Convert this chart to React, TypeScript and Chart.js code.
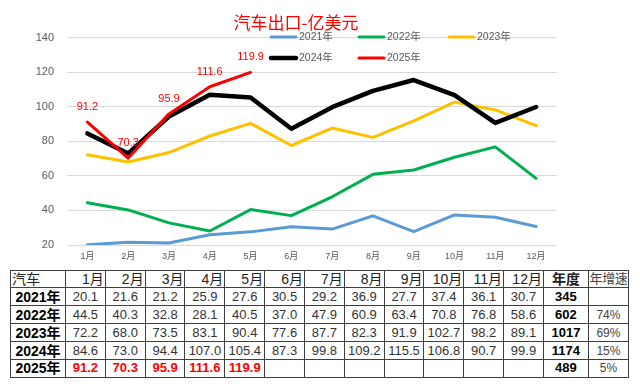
import React, { useEffect, useRef } from "react";
import { Chart, registerables } from "chart.js";

Chart.register(...registerables);

const months = ["1月", "2月", "3月", "4月", "5月", "6月", "7月", "8月", "9月", "10月", "11月", "12月"];
const years = ["2021年", "2022年", "2023年", "2024年", "2025年"];
const v2021 = [20.1, 21.6, 21.2, 25.9, 27.6, 30.5, 29.2, 36.9, 27.7, 37.4, 36.1, 30.7];
const v2022 = [44.5, 40.3, 32.8, 28.1, 40.5, 37.0, 47.9, 60.9, 63.4, 70.8, 76.8, 58.6];
const v2023 = [72.2, 68.0, 73.5, 83.1, 90.4, 77.6, 87.7, 82.3, 91.9, 102.7, 98.2, 89.1];
const v2024 = [84.6, 73.0, 94.4, 107.0, 105.4, 87.3, 99.8, 109.2, 115.5, 106.8, 90.7, 99.9];
const v2025 = [91.2, 70.3, 95.9, 111.6, 119.9];
const annualTotals = ["345", "602", "1017", "1174", "489"];
const annualGrowth = ["", "74%", "69%", "15%", "5%"];
const yMin = 20;
const yMax = 140;
const yStep = 20;
const chartTitle = "汽车出口-亿美元";
const tableCorner = "汽车";
const totalHeader = "年度";
const growthHeader = "年增速";

const seriesValues = [v2021, v2022, v2023, v2024, v2025];
const seriesColors = ["#5B9BD5", "#00B050", "#FFC000", "#000000", "#FF0000"];
const seriesWidths = [3, 3, 3, 4.5, 3];
const legendPos = [
  { x: 270, y: 37 },
  { x: 358, y: 37 },
  { x: 448, y: 37 },
  { x: 270, y: 58 },
  { x: 358, y: 58 },
];

const overlayPlugin = {
  id: "overlay",
  afterDatasetsDraw(chart: any) {
    const ctx = chart.ctx;
    const meta = chart.getDatasetMeta(4);
    ctx.save();
    ctx.font = '11px "Liberation Sans", Arial, sans-serif';
    ctx.fillStyle = "#FF0000";
    ctx.textAlign = "center";
    ctx.textBaseline = "middle";
    meta.data.forEach((pt: any, i: number) => {
      ctx.fillText(String(v2025[i].toFixed(1)), pt.x, pt.y - 15);
    });
    ctx.restore();
  },
  afterDraw(chart: any) {
    const ctx = chart.ctx;
    ctx.save();
    ctx.font = '17px "Noto Sans CJK SC", sans-serif';
    ctx.fillStyle = "#FF0000";
    ctx.textAlign = "center";
    ctx.textBaseline = "middle";
    ctx.fillText(chartTitle, 296, 23);
    ctx.font = '10.5px "Liberation Sans", "Noto Sans CJK SC", sans-serif';
    ctx.textAlign = "left";
    years.forEach((y, i) => {
      const p = legendPos[i];
      ctx.strokeStyle = seriesColors[i];
      ctx.lineWidth = seriesWidths[i];
      ctx.lineCap = "round";
      ctx.beginPath();
      ctx.moveTo(p.x + 1, p.y);
      ctx.lineTo(p.x + 26, p.y);
      ctx.stroke();
      ctx.fillStyle = "#595959";
      ctx.fillText(y, p.x + 29, p.y + 0.5);
    });
    ctx.restore();
  },
};

export default function App() {
  const ref = useRef<HTMLCanvasElement | null>(null);
  useEffect(() => {
    if (!ref.current) return;
    const chart = new Chart(ref.current, {
      type: "line",
      data: {
        labels: months,
        datasets: years.map((y, i) => ({
          label: y,
          data: seriesValues[i],
          borderColor: seriesColors[i],
          backgroundColor: seriesColors[i],
          borderWidth: seriesWidths[i],
          pointRadius: 0,
          tension: 0,
          fill: false,
          borderJoinStyle: "round" as const,
          borderCapStyle: "round" as const,
          order: years.length - 1 - i,
        })),
      },
      options: {
        animation: false,
        responsive: false,
        maintainAspectRatio: false,
        layout: { padding: { top: 37.7, left: 0, right: 83.5, bottom: 0 } },
        plugins: {
          legend: { display: false },
          title: { display: false },
          tooltip: { enabled: false },
        },
        scales: {
          x: {
            offset: true,
            grid: { display: false, drawTicks: false },
            border: { display: false },
            ticks: {
              padding: 6,
              color: "#595959",
              font: { size: 9, family: '"Liberation Sans", "Noto Sans CJK SC", sans-serif' },
              maxRotation: 0,
              autoSkip: false,
            },
            afterFit: (s: any) => {
              s.height = 23;
            },
          },
          y: {
            min: yMin,
            max: yMax,
            grid: { color: "#D9D9D9", lineWidth: 1, drawTicks: false },
            border: { display: false },
            ticks: {
              stepSize: yStep,
              padding: 13,
              color: "#595959",
              font: { size: 11, family: '"Liberation Sans", Arial, sans-serif' },
            },
            afterFit: (s: any) => {
              s.width = 67;
            },
          },
        },
      },
      plugins: [overlayPlugin],
    });
    return () => chart.destroy();
  }, []);

  const border = "1px solid #404040";
  const cellBase: React.CSSProperties = {
    border,
    padding: 0,
    fontSize: 13,
    textAlign: "center",
    whiteSpace: "nowrap",
    overflow: "hidden",
    lineHeight: "16px",
  };
  const fam = '"Liberation Sans", Arial, "Noto Sans CJK SC", sans-serif';

  return (
    <div style={{ position: "absolute", left: 0, top: 0, width: 640, height: 388, background: "#fff", fontFamily: fam }}>
      <canvas ref={ref} width={640} height={268} style={{ position: "absolute", left: 0, top: 0 }} />
      <table
        style={{
          position: "absolute",
          left: 10,
          top: 269.5,
          width: 618,
          height: 107.5,
          borderCollapse: "collapse",
          tableLayout: "fixed",
          color: "#222",
        }}
      >
        <colgroup>
          <col style={{ width: 55 }} />
          {months.map((m) => (
            <col key={m} style={{ width: 39.83 }} />
          ))}
          <col style={{ width: 45 }} />
          <col style={{ width: 40 }} />
        </colgroup>
        <tbody>
          <tr style={{ height: 17.9 }}>
            <td style={{ ...cellBase, fontSize: 14, textAlign: "left", paddingLeft: 1 }}>{tableCorner}</td>
            {months.map((m) => (
              <td key={m} style={{ ...cellBase, fontSize: 14, textAlign: "right", paddingRight: 1 }}>
                {m}
              </td>
            ))}
            <td style={{ ...cellBase, fontSize: 14, fontWeight: "bold" }}>{totalHeader}</td>
            <td style={{ ...cellBase, fontSize: 13, fontWeight: "normal", color: "#444", letterSpacing: -0.4 }}>
              {growthHeader}
            </td>
          </tr>
          {years.map((y, r) => (
            <tr key={y} style={{ height: 17.9 }}>
              <td style={{ ...cellBase, fontSize: 14, fontWeight: "bold", color: "#000" }}>{y}</td>
              {months.map((m, c) => {
                const v = seriesValues[r][c];
                const isLast = r === years.length - 1;
                return (
                  <td
                    key={m}
                    style={{
                      ...cellBase,
                      color: isLast ? "#FF0000" : "#333",
                      fontWeight: isLast ? "bold" : "normal",
                    }}
                  >
                    {v === undefined ? "" : v.toFixed(1)}
                  </td>
                );
              })}
              <td style={{ ...cellBase, fontWeight: "bold", color: "#000" }}>{annualTotals[r]}</td>
              <td
                style={{
                  ...cellBase,
                  fontSize: 12,
                  fontFamily: '"Liberation Sans Narrow", "Liberation Sans", sans-serif',
                  color: "#444",
                }}
              >
                {annualGrowth[r]}
              </td>
            </tr>
          ))}
        </tbody>
      </table>
    </div>
  );
}
